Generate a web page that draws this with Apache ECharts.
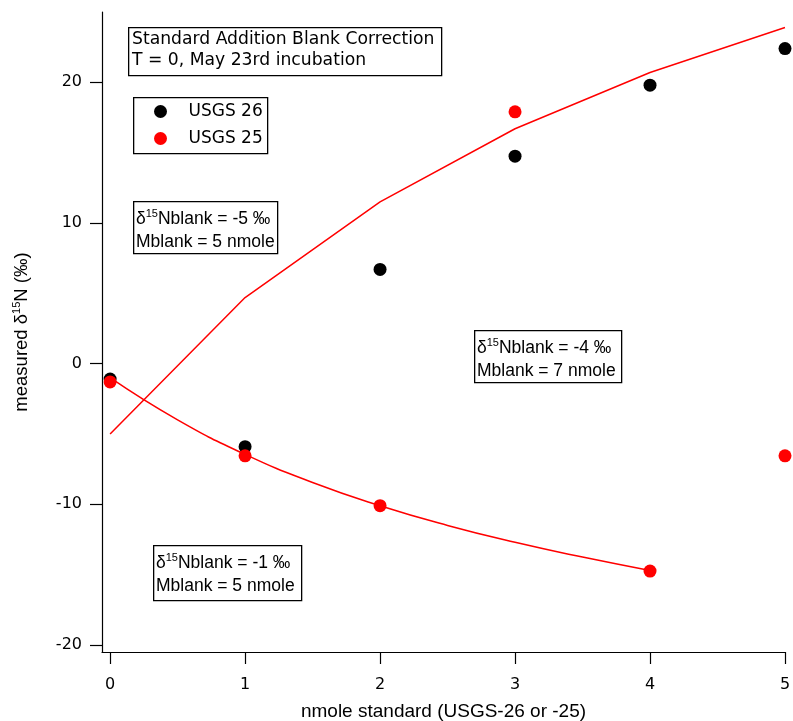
<!DOCTYPE html>
<html><head><meta charset="utf-8">
<script src="https://cdn.jsdelivr.net/npm/echarts@6/dist/echarts.min.js"></script>
<style>html,body{margin:0;padding:0;background:#fff}#c{width:793px;height:721px}</style>
</head><body><div id="c"></div>
<script>
// ---- data ----
const xTicks = [0, 1, 2, 3, 4, 5];
const yTicks = [-20, -10, 0, 10, 20];
const std = [0, 1, 2, 3, 4, 5];
const usgs26 = [-1.1, -5.9, 6.7, 14.75, 19.8, 22.4];
const usgs25 = [-1.3, -6.55, -10.1, 17.9, -14.75, -6.55];
const fitUpX = [0, 1, 2, 3, 4, 5];
const fitUpY = [-5.0, 4.7, 11.5, 16.7, 20.7, 23.9];
const fitDownX = [0, 0.5, 1, 1.5, 2, 2.5, 3, 3.5, 4];
const fitDownY = [-1.0, -4.0, -6.45, -8.45, -10.1, -11.5, -12.7, -13.75, -14.7];
const boxes = [
  {d: '-5', m: '5'},
  {d: '-4', m: '7'},
  {d: '-1', m: '5'}
];

const zip = (a, b) => a.map((v, i) => [v, b[i]]);
const chart = echarts.init(document.getElementById('c'));
const tickFont = {fontFamily: 'DejaVu Sans', fontSize: 16, color: '#000'};

function boxGraphic(b, x, y, w, h) {
  return [
    {type: 'rect', left: x, top: y, shape: {width: w, height: h}, style: {fill: '#fff', stroke: '#000', lineWidth: 1.3}, z: 10},
    {type: 'text', left: x + 3, top: y + 7, z: 11, style: {
      text: '{n|δ}{s|15}{n|Nblank = ' + b.d + ' ‰}\n{n|Mblank = ' + b.m + ' nmole}',
      rich: {
        n: {fontFamily: 'Liberation Sans', fontSize: 17.5, lineHeight: 23, fill: '#000'},
        s: {fontFamily: 'Liberation Sans', fontSize: 11, lineHeight: 23, verticalAlign: 'top', fill: '#000'}
      }
    }}
  ];
}

const option = {
  animation: false,
  backgroundColor: '#fff',
  grid: {left: 102, right: 8, top: 12, bottom: 69, containLabel: false, outerBoundsMode: 'none'},
  xAxis: {
    type: 'value', min: -0.06, max: 5,
    splitLine: {show: false},
    axisLine: {onZero: false, lineStyle: {color: '#000', width: 1.2}},
    axisTick: {show: true, inside: false, length: 12, customValues: xTicks, lineStyle: {color: '#000', width: 1.2}},
    axisLabel: Object.assign({customValues: xTicks, margin: 25}, tickFont),
    name: 'nmole standard (USGS-26 or -25)',
    nameLocation: 'middle', nameGap: 50,
    nameTextStyle: {fontFamily: 'Liberation Sans', fontSize: 19, color: '#000'}
  },
  yAxis: {
    type: 'value', min: -20.5, max: 25,
    splitLine: {show: false},
    axisLine: {show: true, onZero: false, lineStyle: {color: '#000', width: 1.2}},
    axisTick: {show: true, inside: false, length: 12, customValues: yTicks, lineStyle: {color: '#000', width: 1.2}},
    axisLabel: Object.assign({customValues: yTicks, margin: 20}, tickFont),
    name: '{a|measured δ}{s|15}{a|N (‰)}',
    nameLocation: 'middle', nameGap: 69, nameRotate: 90,
    nameTextStyle: {
      rich: {
        a: {fontFamily: 'Liberation Sans', fontSize: 18.5, color: '#000', lineHeight: 22},
        s: {fontFamily: 'Liberation Sans', fontSize: 11, color: '#000', lineHeight: 22, verticalAlign: 'top'}
      }
    }
  },
  legend: {
    data: ['USGS 26', 'USGS 25'],
    orient: 'vertical', left: 154, top: 103, padding: 0,
    itemWidth: 46, itemHeight: 13, itemGap: 10, icon: 'circle',
    textStyle: {fontFamily: 'DejaVu Sans', fontSize: 17, color: '#000', lineHeight: 16, padding: [0,0,0,0]},
    z: 12
  },
  series: [
    {name: 'fitUp', type: 'line', data: zip(fitUpX, fitUpY), symbol: 'none', lineStyle: {color: '#ff0000', width: 1.5}, z: 2},
    {name: 'fitDown', type: 'line', data: zip(fitDownX, fitDownY), symbol: 'none', smooth: 0.5, lineStyle: {color: '#ff0000', width: 1.5}, z: 2},
    {name: 'USGS 26', type: 'scatter', data: zip(std, usgs26), symbol: 'circle', symbolSize: 13, itemStyle: {color: '#000', opacity: 1}, z: 3},
    {name: 'USGS 25', type: 'scatter', data: zip(std, usgs25), symbol: 'circle', symbolSize: 13, itemStyle: {color: '#ff0000', opacity: 1}, z: 4}
  ],
  graphic: [
    {type: 'rect', left: 128, top: 27, shape: {width: 313, height: 48}, style: {fill: '#fff', stroke: '#000', lineWidth: 1.3}, z: 10},
    {type: 'text', left: 132, top: 29, z: 11, style: {
      text: 'Standard Addition Blank Correction\nT = 0, May 23rd incubation',
      fontFamily: 'DejaVu Sans', fontSize: 17.2, lineHeight: 21, fill: '#000'}},
    {type: 'rect', left: 133, top: 97, shape: {width: 134, height: 56}, style: {fill: '#fff', stroke: '#000', lineWidth: 1.3}, z: 10}
  ].concat(boxGraphic(boxes[0], 133, 201, 144, 52))
   .concat(boxGraphic(boxes[1], 474, 330, 147, 52))
   .concat(boxGraphic(boxes[2], 153, 545, 148, 55))
};
chart.setOption(option);
</script>
</body></html>
